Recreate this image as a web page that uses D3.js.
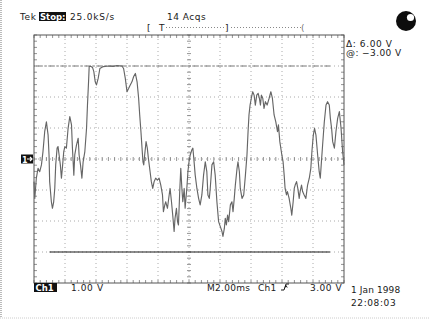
<!DOCTYPE html>
<html>
<head>
<meta charset="utf-8">
<script src="https://cdn.jsdelivr.net/npm/d3@7/dist/d3.min.js"></script>
<style>
  html, body { margin: 0; padding: 0; background: #fff; }
  svg { display: block; }
  text { font-family: "DejaVu Sans", Verdana, sans-serif; fill: #1a1a1a; }
</style>
</head>
<body>
<svg id="chart" width="430" height="323"></svg>
<script>
// ---- data: time (ms) and Ch1 voltage (V) ----
const timeMs = [0.00,0.05,0.10,0.15,0.26,0.37,0.48,0.58,0.69,0.80,0.91,0.97,1.01,1.12,1.19,1.27,1.34,1.40,1.49,1.55,1.62,1.70,1.77,1.83,1.92,1.99,2.09,2.20,2.31,2.42,2.48,2.57,2.63,2.74,2.85,2.91,3.00,3.09,3.17,3.28,3.39,3.45,3.52,3.56,3.65,3.78,3.86,3.95,4.03,4.14,4.25,4.47,4.80,5.10,5.35,5.67,5.78,5.89,6.00,6.11,6.21,6.32,6.43,6.54,6.65,6.75,6.82,6.90,6.97,7.03,7.08,7.14,7.23,7.31,7.38,7.49,7.57,7.66,7.75,7.85,7.96,8.07,8.18,8.29,8.35,8.44,8.50,8.61,8.72,8.78,8.87,8.95,9.04,9.10,9.19,9.26,9.32,9.41,9.47,9.54,9.60,9.69,9.75,9.86,9.93,10.00,10.08,10.18,10.25,10.31,10.40,10.51,10.62,10.72,10.83,10.94,11.05,11.15,11.22,11.31,11.37,11.48,11.59,11.69,11.80,11.91,12.02,12.13,12.19,12.28,12.34,12.41,12.49,12.56,12.67,12.77,12.84,12.92,12.99,13.10,13.16,13.25,13.31,13.42,13.53,13.64,13.74,13.81,13.87,13.94,14.02,14.11,14.20,14.28,14.37,14.46,14.54,14.61,14.67,14.76,14.84,14.93,15.04,15.17,15.28,15.38,15.49,15.60,15.71,15.77,15.86,15.99,16.07,16.14,16.20,16.29,16.35,16.46,16.57,16.63,16.72,16.79,16.85,16.94,17.02,17.11,17.17,17.26,17.33,17.43,17.54,17.65,17.76,17.86,17.93,18.02,18.10,18.19,18.30,18.40,18.47,18.53,18.62,18.73,18.84,18.94,19.05,19.12,19.20,19.27,19.38,19.48,19.59,19.70,19.81,19.91,20.00];
const ch1Volts = [-0.73,-1.27,-0.95,-0.62,-0.30,-0.41,-0.19,0.24,0.88,1.20,0.77,0.13,-0.73,-1.38,-1.59,-1.38,-0.95,-0.19,0.35,0.40,0.13,-0.19,-0.62,-0.30,0.24,0.40,0.35,0.99,1.37,1.10,0.35,-0.52,0.13,0.45,0.67,0.13,-0.19,-0.62,-0.09,0.24,0.99,1.74,2.49,2.98,2.99,2.95,2.82,2.49,2.39,2.60,2.92,2.98,3.00,2.99,3.01,3.00,2.92,2.60,2.17,2.28,2.39,2.49,2.66,2.76,2.49,1.96,1.42,0.88,0.35,-0.09,-0.19,0.13,0.56,0.35,0.02,-0.41,-0.73,-0.95,-0.73,-0.62,-0.68,-0.62,-0.84,-1.16,-1.70,-1.48,-1.38,-1.59,-1.16,-0.95,-1.38,-1.81,-2.34,-1.91,-1.59,-2.02,-2.13,-0.95,-0.30,-0.95,-1.38,-0.95,-1.59,-0.95,-0.41,-0.09,0.13,0.29,0.35,0.02,-0.52,-0.95,-1.27,-1.48,-1.16,-0.52,-0.09,-0.41,-1.16,-1.27,-0.95,-0.19,-0.09,-0.52,-1.38,-2.02,-2.18,-2.34,-2.50,-2.24,-1.91,-2.13,-1.81,-2.02,-1.48,-1.38,-1.70,-1.27,-0.84,-0.30,-0.09,-0.41,-0.95,-1.27,-1.16,-0.52,0.13,0.88,1.42,1.74,1.96,2.17,2.06,1.74,2.06,2.12,1.96,1.74,2.06,1.96,1.63,1.85,1.74,1.96,2.17,1.96,1.42,1.20,0.88,1.10,0.56,0.13,-0.09,-0.52,-0.95,-1.16,-1.05,-1.27,-1.59,-1.81,-1.38,-0.95,-0.84,-0.73,-0.95,-1.27,-1.05,-0.84,-1.05,-1.16,-1.27,-0.84,-0.62,-0.30,0.24,0.77,0.99,0.77,0.13,-0.41,-0.62,-0.19,0.45,1.20,1.74,1.85,1.74,1.31,0.99,0.56,0.35,0.88,1.31,1.53,0.99,0.24,-0.19];

// graticule: 10 horizontal divisions (2 ms/div), 8 vertical divisions (1 V/div)
const timeDomain = [0, 20];
const voltDomain = [-4, 4];
const timeDivs = [0,2,4,6,8,10,12,14,16,18,20];
const voltDivs = [-4,-3,-2,-1,0,1,2,3,4];
// cursors
const cursorUpper = 3.0;
const cursorLower = -3.0;
const cursorUpperSpan = [0.15, 19.1];
const cursorLowerSpan = [1.0, 19.1];

// header / readout texts
const headerTexts = { tek: "Tek", stop: "Stop:", rate: "25.0kS/s", acqs: "14 Acqs" };
const cursorTexts = ["\u0394: 6.00 V", "@: \u22123.00 V"];
const footerTexts = { ch: "Ch1", volts: "1.00 V", time: "M2.00ms", trigCh: "Ch1", trigLevel: "3.00 V", date: "1 Jan 1998", clock: "22:08:03" };

const svg = d3.select("#chart");
const x = d3.scaleLinear().domain(timeDomain).range([34, 344]);
const y = d3.scaleLinear().domain(voltDomain).range([283, 35]);

// outer page frame (light dotted)
svg.append("line").attr("x1", 1).attr("x2", 1).attr("y1", 0).attr("y2", 318)
  .attr("stroke", "#bbb").attr("stroke-width", 2).attr("stroke-dasharray", "1,1");
svg.append("line").attr("x1", 0).attr("x2", 430).attr("y1", 318).attr("y2", 318)
  .attr("stroke", "#ccc").attr("stroke-width", 1).attr("stroke-dasharray", "1,1");

const g = svg.append("g");

// dotted division grid
g.selectAll("line.vgrid").data(timeDivs.slice(1, -1)).enter().append("line")
  .attr("x1", d => x(d)).attr("x2", d => x(d)).attr("y1", y(4)).attr("y2", y(-4))
  .attr("stroke", "#aaa").attr("stroke-width", 1).attr("stroke-dasharray", "1,3");
g.selectAll("line.hgrid").data(voltDivs.slice(1, -1)).enter().append("line")
  .attr("y1", d => y(d)).attr("y2", d => y(d)).attr("x1", x(0)).attr("x2", x(20))
  .attr("stroke", "#aaa").attr("stroke-width", 1).attr("stroke-dasharray", "1,3");

// minor ticks (5 per division) on centre lines and border
const minorT = d3.range(0, 20.001, 0.4);
const minorV = d3.range(-4, 4.001, 0.2);
const tickColor = "#777";
g.selectAll("line.cht").data(minorT).enter().append("line")
  .attr("x1", d => x(d)).attr("x2", d => x(d)).attr("y1", y(0) - 2).attr("y2", y(0) + 2)
  .attr("stroke", tickColor).attr("stroke-width", 0.8);
g.selectAll("line.cvt").data(minorV).enter().append("line")
  .attr("y1", d => y(d)).attr("y2", d => y(d)).attr("x1", x(10) - 2).attr("x2", x(10) + 2)
  .attr("stroke", tickColor).attr("stroke-width", 0.8);
g.selectAll("line.tbt").data(minorT).enter().append("line")
  .attr("x1", d => x(d)).attr("x2", d => x(d)).attr("y1", y(4)).attr("y2", y(4) + 3)
  .attr("stroke", tickColor).attr("stroke-width", 0.8);
g.selectAll("line.bbt").data(minorT).enter().append("line")
  .attr("x1", d => x(d)).attr("x2", d => x(d)).attr("y1", y(-4)).attr("y2", y(-4) - 3)
  .attr("stroke", tickColor).attr("stroke-width", 0.8);
g.selectAll("line.lbt").data(minorV).enter().append("line")
  .attr("y1", d => y(d)).attr("y2", d => y(d)).attr("x1", x(0)).attr("x2", x(0) + 3)
  .attr("stroke", tickColor).attr("stroke-width", 0.8);
g.selectAll("line.rbt").data(minorV).enter().append("line")
  .attr("y1", d => y(d)).attr("y2", d => y(d)).attr("x1", x(20)).attr("x2", x(20) - 3)
  .attr("stroke", tickColor).attr("stroke-width", 0.8);

// border
g.append("rect").attr("x", x(0)).attr("y", y(4)).attr("width", x(20) - x(0)).attr("height", y(-4) - y(4))
  .attr("fill", "none").attr("stroke", "#555").attr("stroke-width", 1);

// cursors
g.append("line").attr("x1", x(cursorUpperSpan[0])).attr("x2", x(cursorUpperSpan[1]))
  .attr("y1", y(cursorUpper)).attr("y2", y(cursorUpper))
  .attr("stroke", "#777").attr("stroke-width", 1).attr("stroke-dasharray", "6,2,2,2");
g.append("line").attr("x1", x(cursorLowerSpan[0])).attr("x2", x(cursorLowerSpan[1]))
  .attr("y1", y(cursorLower)).attr("y2", y(cursorLower))
  .attr("stroke", "#1a1a1a").attr("stroke-width", 1.1);

// trace
const traceData = timeMs.map((t, i) => ({ t, v: ch1Volts[i] }));
g.append("path").datum(traceData)
  .attr("d", d3.line().x(d => x(d.t)).y(d => y(d.v)))
  .attr("fill", "none").attr("stroke", "#666").attr("stroke-width", 1.15)
  .attr("stroke-linejoin", "round");

// header
const fs = 9;
svg.append("text").attr("x", 20).attr("y", 20).attr("font-size", fs).attr("letter-spacing", 0.6).text(headerTexts.tek);
svg.append("rect").attr("x", 39).attr("y", 12).attr("width", 27).attr("height", 9).attr("fill", "#111");
svg.append("text").attr("x", 40).attr("y", 20).attr("font-size", 8.5).attr("font-weight", "bold")
  .style("fill", "#fff").text(headerTexts.stop);
svg.append("text").attr("x", 70).attr("y", 20).attr("font-size", fs).attr("letter-spacing", 0.8).text(headerTexts.rate);
svg.append("text").attr("x", 167).attr("y", 20).attr("font-size", fs).attr("letter-spacing", 0.5).text(headerTexts.acqs);

// trigger position bar
svg.append("text").attr("x", 147).attr("y", 31).attr("font-size", 9).text("[");
svg.append("text").attr("x", 159).attr("y", 31).attr("font-size", 9).text("T");
svg.append("line").attr("x1", 166).attr("x2", 226).attr("y1", 27.5).attr("y2", 27.5)
  .attr("stroke", "#888").attr("stroke-dasharray", "1,2");
svg.append("text").attr("x", 225).attr("y", 31).attr("font-size", 9).text("]");
svg.append("line").attr("x1", 231).attr("x2", 302).attr("y1", 27.5).attr("y2", 27.5)
  .attr("stroke", "#888").attr("stroke-dasharray", "1,2");
svg.append("text").attr("x", 301).attr("y", 31).attr("font-size", 9).style("fill", "#777").text("(");

// status ball
svg.append("circle").attr("cx", 406).attr("cy", 21).attr("r", 10).attr("fill", "#0d0d0d");
svg.append("circle").attr("cx", 410.5).attr("cy", 17.5).attr("r", 3.6).attr("fill", "#fff");

// cursor readouts
svg.append("text").attr("x", 346).attr("y", 47).attr("font-size", fs).attr("letter-spacing", 0.6).text(cursorTexts[0]);
svg.append("text").attr("x", 346).attr("y", 56).attr("font-size", fs).attr("letter-spacing", 0.4).text(cursorTexts[1]);

// channel ground marker
svg.append("rect").attr("x", 21).attr("y", y(0) - 4.5).attr("width", 12).attr("height", 9).attr("fill", "#111");
svg.append("text").attr("x", 22).attr("y", y(0) + 3.5).attr("font-size", 8).attr("font-weight", "bold")
  .style("fill", "#fff").text("1");
svg.append("path").attr("d", `M27,${y(0)} L32,${y(0)} M30,${y(0) - 2} L32,${y(0)} L30,${y(0) + 2}`)
  .attr("stroke", "#fff").attr("stroke-width", 1.2).attr("fill", "none");

// footer
svg.append("rect").attr("x", 34).attr("y", 283).attr("width", 23).attr("height", 9).attr("fill", "#111");
svg.append("text").attr("x", 35.5).attr("y", 291).attr("font-size", 8.5).attr("font-weight", "bold")
  .style("fill", "#fff").text(footerTexts.ch);
svg.append("text").attr("x", 71).attr("y", 291).attr("font-size", fs).attr("letter-spacing", 0.6).text(footerTexts.volts);
svg.append("text").attr("x", 207).attr("y", 291).attr("font-size", fs).attr("letter-spacing", 0.3).text(footerTexts.time);
svg.append("text").attr("x", 258).attr("y", 291).attr("font-size", fs).attr("letter-spacing", 0.3).text(footerTexts.trigCh);
svg.append("path").attr("d", "M281,290 L284,290 L286,284 L289,284 M285,287.5 L286,285.5 L287.2,287.5")
  .attr("stroke", "#1a1a1a").attr("stroke-width", 1).attr("fill", "none");
svg.append("text").attr("x", 310).attr("y", 291).attr("font-size", fs).attr("letter-spacing", 0.5).text(footerTexts.trigLevel);
svg.append("text").attr("x", 351).attr("y", 293).attr("font-size", fs).attr("letter-spacing", 0.1).text(footerTexts.date);
svg.append("text").attr("x", 351).attr("y", 306).attr("font-size", fs).attr("letter-spacing", 0.6).text(footerTexts.clock);
</script>
</body>
</html>
